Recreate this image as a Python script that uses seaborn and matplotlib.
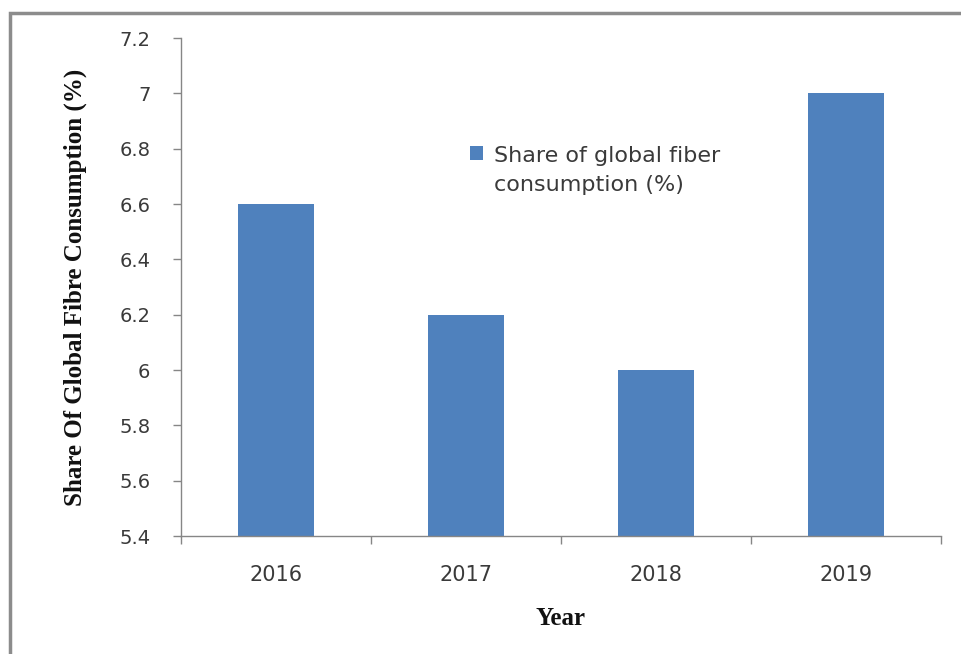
import matplotlib
matplotlib.use("Agg")
import matplotlib.pyplot as plt
import seaborn as sns
import pandas as pd
from matplotlib.patches import Patch, Rectangle

years = ["2016", "2017", "2018", "2019"]
share = [6.6, 6.2, 6.0, 7.0]
series_label = "Share of global fiber\nconsumption (%)"
y_ticks = [5.4, 5.6, 5.8, 6.0, 6.2, 6.4, 6.6, 6.8, 7.0, 7.2]
y_tick_labels = ["5.4", "5.6", "5.8", "6", "6.2", "6.4", "6.6", "6.8", "7", "7.2"]

df = pd.DataFrame({"Year": years, "Share": share})

sns.set_theme(style="white")
plt.rcParams["font.family"] = ["DejaVu Sans"]

BAR = "#4F81BD"
GRID = "#868686"
TXT = "#3a3a3a"

fig = plt.figure(figsize=(9.61, 6.54), dpi=100)
fig.patch.set_facecolor("white")
ax = fig.add_axes([181 / 961, 1 - 536 / 654, 760 / 961, 498 / 654])

sns.barplot(data=df, x="Year", y="Share", color=BAR, width=0.4, ax=ax,
            saturation=1, edgecolor="none")

ax.set_ylim(5.4, 7.2)
ax.set_xlim(-0.5, 3.5)
ax.set_yticks(y_ticks)
ax.set_yticklabels(y_tick_labels)

for s in ["top", "right"]:
    ax.spines[s].set_visible(False)
for s in ["left", "bottom"]:
    ax.spines[s].set_color(GRID)
    ax.spines[s].set_linewidth(1.0)

ax.tick_params(axis="y", which="major", direction="out", length=6, width=1,
               color=GRID, pad=16, labelsize=14, labelcolor=TXT, left=True)
ax.tick_params(axis="x", which="major", length=0, pad=21, labelsize=15,
               labelcolor=TXT, bottom=True)
ax.set_xticks([-0.5, 0.5, 1.5, 2.5, 3.5], minor=True)
ax.tick_params(axis="x", which="minor", direction="out", length=6, width=1,
               color=GRID, bottom=True)

ax.set_ylabel("Share Of Global Fibre Consumption (%)", family="Liberation Serif",
              fontweight="bold", fontsize=18, color="#111111", labelpad=23)
ax.set_xlabel("Year", family="Liberation Serif", fontweight="bold",
              fontsize=18, color="#111111", labelpad=16)

handle = Patch(facecolor=BAR, edgecolor="none")
leg = ax.legend([handle], [series_label], loc="upper left",
                bbox_to_anchor=(470 / 961, 1 - 146 / 654),
                bbox_transform=fig.transFigure, frameon=False,
                handlelength=0.6, handleheight=0.6, handletextpad=0.5,
                prop={"family": "DejaVu Sans", "size": 16}, labelcolor=TXT,
                borderaxespad=0, borderpad=0)
for t in leg.get_texts():
    t.set_linespacing(1.55)
for col in leg._legend_handle_box.get_children():
    for item in col.get_children():
        item.align = "top"

fig.patches.append(Rectangle((10 / 961, -0.1), 1.2, 1 - 13 / 654 + 0.1,
                             transform=fig.transFigure, fill=False,
                             edgecolor="#8c8c8c", linewidth=2.5, zorder=10))

fig.savefig("out.png", dpi=100)
